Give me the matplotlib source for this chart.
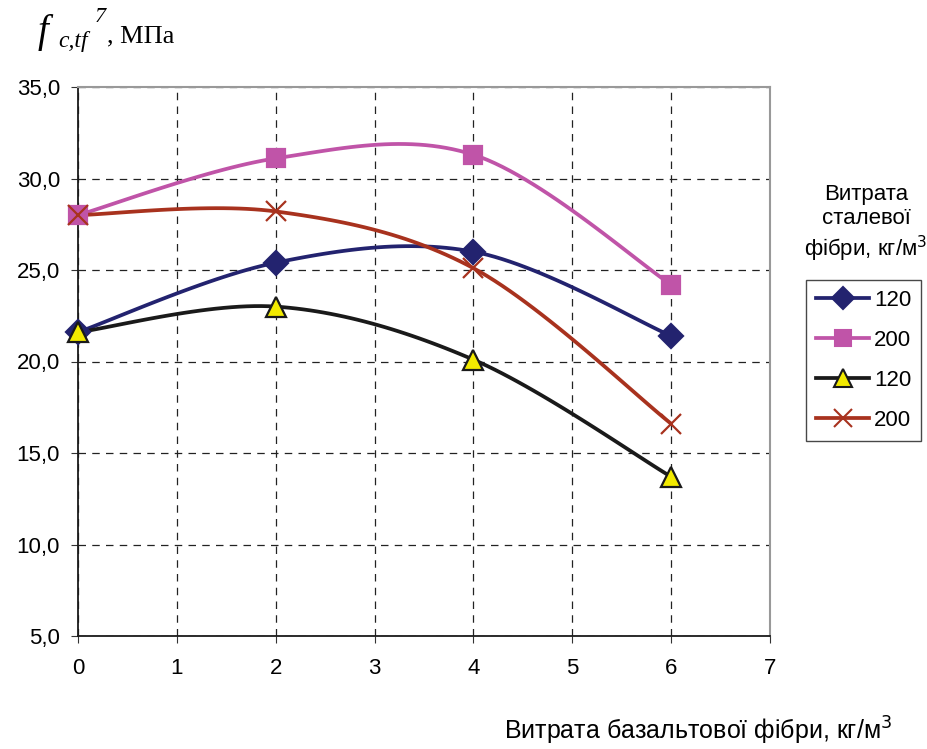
import numpy as np
import matplotlib
matplotlib.use("Agg")
import matplotlib.pyplot as plt
from matplotlib.lines import Line2D

basalt = [0, 2, 4, 6]
s120_a = [21.6, 25.4, 26.0, 21.4]
s200_a = [28.0, 31.1, 31.3, 24.2]
s120_b = [21.6, 23.0, 20.1, 13.7]
s200_b = [28.0, 28.2, 25.1, 16.6]
legend_labels = ["120", "200", "120", "200"]
yticks = [5, 10, 15, 20, 25, 30, 35]
xticks = [0, 1, 2, 3, 4, 5, 6, 7]


def smooth(x, y, n=30):
    x = np.asarray(x, float); y = np.asarray(y, float)
    P = np.column_stack([x, y])
    Pe = np.vstack([P[0], P, P[-1]])
    out = []
    t = np.linspace(0, 1, n)
    for i in range(len(P) - 1):
        p0, p1, p2, p3 = Pe[i], Pe[i + 1], Pe[i + 2], Pe[i + 3]
        c1 = p1 + (p2 - p0) / 6
        c2 = p2 - (p3 - p1) / 6
        seg = ((1 - t)[:, None] ** 3 * p1 + 3 * ((1 - t) ** 2 * t)[:, None] * c1
               + 3 * ((1 - t) * t ** 2)[:, None] * c2 + (t ** 3)[:, None] * p2)
        out.append(seg if i == 0 else seg[1:])
    s = np.vstack(out)
    return s[:, 0], s[:, 1]


plt.rcParams['font.family'] = ['Liberation Sans', 'DejaVu Sans']
fig = plt.figure(figsize=(9.28, 7.49), dpi=100)
ax = fig.add_axes([78 / 928, 1 - 636 / 749, (770 - 78) / 928, (636 - 87) / 749])

series = [
    (s120_a, '#23236f', 'D', '#23236f', '#23236f', 12.5),
    (s200_a, '#c054a8', 's', '#c054a8', '#c054a8', 13),
    (s120_b, '#1a1a1a', '^', '#f2ea00', '#1a1a1a', 14),
    (s200_b, '#a8321e', 'x', '#a8321e', '#a8321e', 14),
]
handles = []
for vals, col, mk, mfc, mec, ms in series:
    xs, ys = smooth(basalt, vals)
    ax.plot(xs, ys, color=col, lw=2.7, zorder=3, solid_capstyle='round')
    ax.plot(basalt, vals, ls='none', marker=mk, ms=ms, mfc=mfc, mec=mec,
            mew=1.6, zorder=4, clip_on=False)
    handles.append(Line2D([], [], color=col, lw=2.7, marker=mk, ms=ms - 1.5,
                          mfc=mfc, mec=mec, mew=1.5))

ax.set_xlim(0, 7)
ax.set_ylim(5, 35)
ax.set_xticks(xticks)
ax.set_yticks(yticks)
ax.set_yticklabels([f"{v:.1f}".replace('.', ',') for v in yticks])
ax.tick_params(axis='both', labelsize=16, length=5, color='#333333')
ax.tick_params(axis='y', pad=8)
ax.tick_params(axis='x', pad=11)
ax.grid(True, color='#222222', ls=(0, (6, 5)), lw=0.9)
ax.set_axisbelow(True)
for side in ['left', 'bottom']:
    ax.spines[side].set_color('#1a1a1a'); ax.spines[side].set_linewidth(1.3)
for side in ['top', 'right']:
    ax.spines[side].set_color('#999999'); ax.spines[side].set_linewidth(1.5)

serif = 'Liberation Serif'
fig.text(38 / 928, 1 - 42 / 749, "f", fontsize=28, family=serif, style='italic',
         va='baseline', ha='left')
fig.text(58 / 928, 1 - 47 / 749, "c,tf", fontsize=17, family=serif, style='italic',
         va='baseline', ha='left')
fig.text(95 / 928, 1 - 22 / 749, "7", fontsize=16, family=serif, style='italic',
         va='baseline', ha='left')
fig.text(107 / 928, 1 - 42 / 749, ", МПа", fontsize=19, family=serif,
         va='baseline', ha='left')

fig.text(892 / 928, 1 - 731 / 749, "Витрата базальтової фібри, кг/м$^3$", fontsize=18,
         ha='right', va='center')
fig.text(866 / 928, 1 - 224 / 749, "Витрата\nсталевої\nфібри, кг/м$^3$", fontsize=16,
         ha='center', va='center', linespacing=1.2)

leg = fig.legend(handles, legend_labels, loc='upper left',
                 bbox_to_anchor=(806 / 928, 1 - 280 / 749), fontsize=16,
                 frameon=True, fancybox=False, edgecolor='#1a1a1a', handlelength=2.4,
                 handletextpad=0.2, labelspacing=0.85, borderpad=0.45, borderaxespad=0)
leg.get_frame().set_linewidth(1.0)

fig.savefig("out.png", dpi=100)
